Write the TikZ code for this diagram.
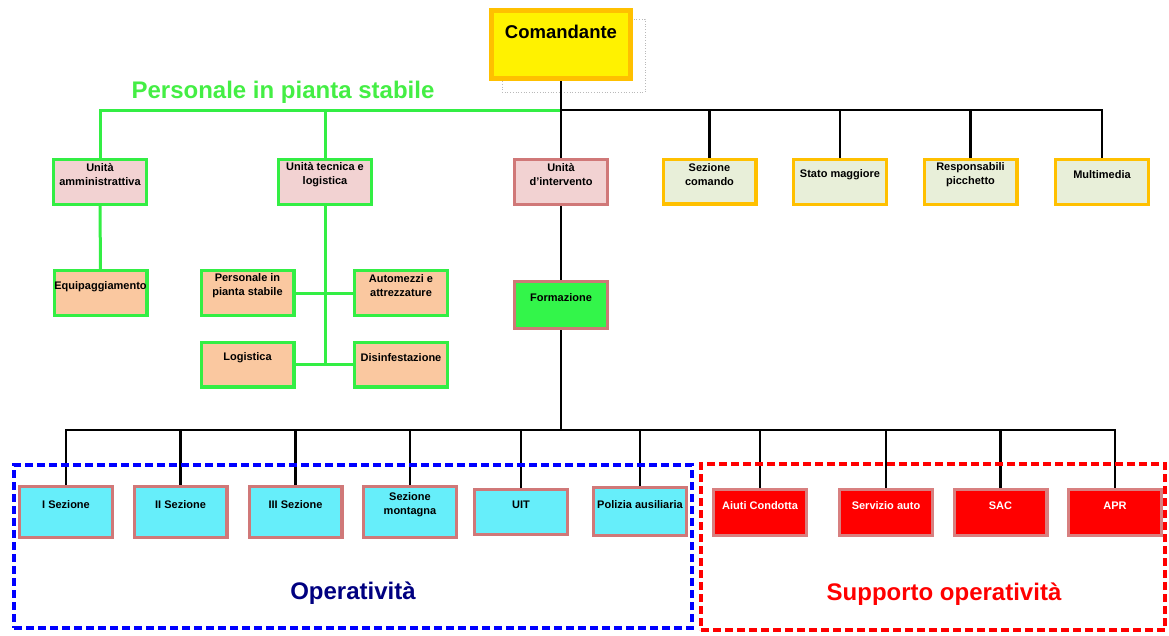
\documentclass[tikz,border=0pt]{standalone}
\usepackage{fontspec}
\setmainfont{Liberation Sans}
\definecolor{gline}{HTML}{33EE44}
\definecolor{pinkf}{HTML}{F2D2D2}
\definecolor{roseb}{HTML}{D07878}
\definecolor{peachf}{HTML}{FAC8A0}
\definecolor{goldb}{HTML}{FFC000}
\definecolor{lgreenf}{HTML}{E8EFD9}
\definecolor{cyanf}{HTML}{66EEFA}
\definecolor{formf}{HTML}{33F54A}
\definecolor{redb}{HTML}{D88080}
\definecolor{navyt}{HTML}{000080}
\definecolor{persg}{HTML}{44EE44}
\tikzset{
  lab/.style={font=\fontsize{11}{14}\selectfont\bfseries, align=center, inner sep=0pt, yshift=7pt},
  bx/.style={line width=3.3pt, inner sep=0pt, minimum width=92.7pt, minimum height=44.7pt},
  gbx/.style={bx, draw=gline},
  rbx/.style={bx, draw=roseb},
  ybx/.style={bx, draw=goldb, fill=lgreenf},
  glink/.style={draw=gline, line width=3pt},
  blink/.style={draw=black, line width=2.8pt},
  big/.style={font=\fontsize{24}{28}\selectfont\bfseries, inner sep=0pt},
  grp/.style={line width=4pt, dash pattern=on 8pt off 4pt, inner sep=0pt}
}
\begin{document}
\begin{tikzpicture}[x=1pt,y=-1pt]
\useasboundingbox (0,0) rectangle (1169,635);
% shadow behind Comandante
\node[draw=gray!55, dotted, line width=0.7pt, inner sep=0pt, minimum width=143pt, minimum height=73pt] (shadow) at (573.5,55.5) {};
% bus coordinates
\coordinate (bus1) at (561,110);
\coordinate (bus2) at (561,430);
% top
\node[draw=goldb, fill=yellow, line width=5pt, inner sep=0pt, minimum width=139pt, minimum height=68pt,
      label={[font=\fontsize{18.5}{22}\selectfont\bfseries, inner sep=0pt, yshift=13pt]center:Comandante}] (cmd) at (561,44.5) {};
\node[big, text=persg] (pers) at (283,92) {Personale in pianta stabile};
% row 1
\node[gbx, fill=pinkf, label={[lab]center:Unità\\amministrattiva}] (ua) at (100,182) {};
\node[gbx, fill=pinkf, label={[lab]center:Unità tecnica e\\logistica}] (ut) at (325,182) {};
\node[rbx, fill=pinkf, label={[lab]center:Unità\\d'intervento}] (ui) at (561,182) {};
\node[ybx, label={[lab]center:Sezione\\comando}] (sc) at (709.5,181.5) {};
\node[ybx, label={[lab]center:Stato maggiore}] (sm) at (840,182) {};
\node[ybx, label={[lab]center:Responsabili\\picchetto}] (rp) at (970.5,182) {};
\node[ybx, label={[lab]center:Multimedia}] (mm) at (1102,182) {};
% row 2
\node[gbx, fill=peachf, label={[lab, yshift=-1pt]center:Equipaggiamento}] (eq) at (100.5,293) {};
\node[gbx, fill=peachf, label={[lab]center:Personale in\\pianta stabile}] (ps) at (247.5,293) {};
\node[gbx, fill=peachf, label={[lab]center:Automezzi e\\attrezzature}] (am) at (401,293) {};
\node[gbx, fill=peachf, label={[lab]center:Logistica}] (lg) at (247.5,364.5) {};
\node[gbx, fill=peachf, label={[lab]center:Disinfestazione}] (ds) at (401,364.5) {};
\node[rbx, fill=formf, minimum height=46.7pt, label={[lab]center:Formazione}] (fo) at (561,305) {};
% connectors
\draw[glink] (ua.north) |- (bus1);
\draw[glink] (ut.north) -- (ut.north |- bus1);
\draw[blink] (cmd.south) -- (ui.north);
\draw[blink] (bus1) -| (mm.north);
\draw[blink] (sc.north) -- (sc.north |- bus1);
\draw[blink] (sm.north) -- (sm.north |- bus1);
\draw[blink] (rp.north) -- (rp.north |- bus1);
\draw[glink] (ua.south) -- (eq.north);
\draw[glink] (ut.south) -- (ut.south |- lg.east);
\draw[glink] (ps.east) -- (am.west);
\draw[glink] (lg.east) -- (ds.west);
\draw[blink] (ui.south) -- (fo.north);
\draw[blink] (fo.south) -- (bus2);
% bottom nodes
\node[rbx, fill=cyanf, minimum height=50.7pt, label={[lab]center:I Sezione}] (s1) at (66,512) {};
\node[rbx, fill=cyanf, minimum height=50.7pt, label={[lab]center:II Sezione}] (s2) at (180.5,512) {};
\node[rbx, fill=cyanf, minimum height=50.7pt, label={[lab]center:III Sezione}] (s3) at (295.5,512) {};
\node[rbx, fill=cyanf, minimum height=50.7pt, label={[lab]center:Sezione\\montagna}] (smo) at (410,512) {};
\node[rbx, fill=cyanf, label={[lab]center:UIT}] (uit) at (521,512) {};
\node[rbx, fill=cyanf, minimum height=47.7pt, label={[lab, yshift=-0.5pt]center:Polizia ausiliaria}] (pa) at (640,511.5) {};
\node[bx, draw=redb, fill=red, minimum height=45.7pt, label={[lab, text=white]center:Aiuti Condotta}] (ac) at (760,512.5) {};
\node[bx, draw=redb, fill=red, minimum height=45.7pt, label={[lab, text=white]center:Servizio auto}] (sa) at (886,512.5) {};
\node[bx, draw=redb, fill=red, minimum height=45.7pt, label={[lab, text=white]center:SAC}] (sac) at (1000.5,512.5) {};
\node[bx, draw=redb, fill=red, minimum height=45.7pt, label={[lab, text=white]center:APR}] (apr) at (1115,512.5) {};
% bottom bus
\draw[blink] (s1.north) |- (apr.north |- bus2) -- (apr.north);
\foreach \n in {s2,s3,smo,uit,pa,ac,sa,sac}{
  \draw[blink] (\n.north) -- (\n.north |- bus2);
}
% group frames
\node[grp, draw=blue, minimum width=678pt, minimum height=163pt] (opgrp) at (353,546.5) {};
\node[grp, draw=red, minimum width=464pt, minimum height=166pt] (supgrp) at (933,547) {};
\node[big, text=navyt] (optxt) at (353,593) {Operatività};
\node[big, text=red] (suptxt) at (944,594) {Supporto operatività};
\end{tikzpicture}
\end{document}
